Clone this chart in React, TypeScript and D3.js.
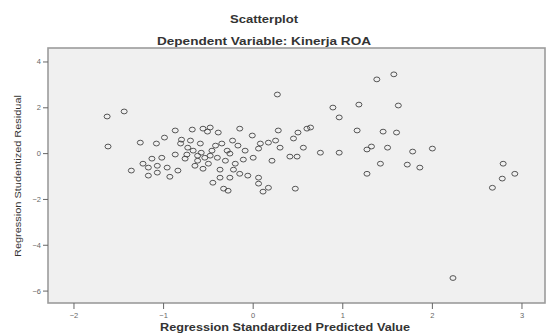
import { useEffect, useRef } from "react";
import * as d3 from "d3";

// predicted value (x) / studentized residual (y)
const predicted = [
  -1.63, -1.44, -1.62, -1.36, -1.26, -1.08, -0.99, -0.87, -0.68, -0.56, -0.51, -0.8, -0.7, -0.81, -0.73, -0.67,
  -0.87, -0.74, -0.62, -0.54, -1.13, -1.02, -1.23, -1.17, -1.07, -0.96, -0.84, -1.17, -1.07, -0.93, -0.62, -0.76,
  0.27, -0.48, -0.39, -0.15, -0.01, -0.23, -0.35, 0.28, 0.5, 0.6, 0.45, 0.08, 0.17, 0.25, 0.3, 0.06,
  -0.46, -0.29, -0.58, -0.48, -0.4, -0.26, -0.11, 0.0, 0.21, 0.41, 0.49, 0.56, -0.56, -0.37, -0.22, -0.15,
  -0.26, -0.06, -0.37, 0.06, -0.45, 0.06, 0.17, -0.33, -0.28, 0.11, 0.47, -0.42, -0.59, -0.31, -0.2, -0.5,
  -0.65, -0.09, -0.17,
  0.89, 1.18, 1.38, 1.57, 1.62, 0.96, 1.16, 1.45, 1.6, 0.64, 1.32, 1.5, 1.27, 0.75, 0.96, 1.78, 2.0,
  1.42, 1.72, 1.86, 1.27,
  2.79, 2.92, 2.78, 2.67, 2.23,
];
const residual = [
  1.62, 1.84, 0.31, -0.74, 0.48, 0.44, 0.7, 1.01, 1.05, 1.09, 0.96, 0.61, 0.57, 0.44, 0.26, 0.13,
  -0.04, -0.04, -0.09, -0.18, -0.22, -0.18, -0.44, -0.61, -0.53, -0.61, -0.74, -0.96, -0.83, -1.01, -0.31, -0.22,
  2.58, 1.14, 0.92, 1.09, 0.79, 0.57, 0.44, 1.01, 0.92, 1.09, 0.66, 0.44, 0.48, 0.57, 0.26, 0.22,
  0.13, 0.13, 0.04, -0.09, -0.18, 0.0, -0.26, -0.18, -0.31, -0.13, -0.13, 0.26, -0.66, -0.7, -0.7, -0.88,
  -1.05, -0.96, -1.05, -1.05, -1.27, -1.31, -1.49, -1.53, -1.62, -1.66, -1.53, 0.35, 0.44, -0.31, -0.44, -0.44,
  -0.53, 0.13, 0.35,
  2.01, 2.14, 3.24, 3.46, 2.1, 1.58, 1.01, 0.96, 0.92, 1.14, 0.31, 0.26, 0.18, 0.04, 0.04, 0.09, 0.22,
  -0.44, -0.48, -0.61, -0.88,
  -0.44, -0.88, -1.09, -1.49, -5.43,
];
const xTicks = [-2, -1, 0, 1, 2, 3];
const yTicks = [4, 2, 0, -2, -4, -6];

export default function App() {
  const svgRef = useRef(null);

  useEffect(() => {
    const svg = d3.select(svgRef.current);
    svg.selectAll("*").remove();

    const left = 48, right = 545, top = 48, bottom = 303;
    const x = d3.scaleLinear().domain([-2.29, 3.257]).range([left, right]);
    const y = d3.scaleLinear().domain([-6.52, 4.61]).range([bottom, top]);
    const font = "'Liberation Sans', Arial, sans-serif";

    svg.append("rect").attr("width", 547).attr("height", 333).attr("fill", "#ffffff");

    svg.append("rect")
      .attr("x", left).attr("y", top)
      .attr("width", right - left).attr("height", bottom - top)
      .attr("fill", "#f0f0f0")
      .attr("stroke", "#9c9c9c")
      .attr("stroke-width", 1.6);

    // titles
    svg.append("text").attr("x", 264).attr("y", 23).attr("text-anchor", "middle")
      .attr("font-family", font).attr("font-weight", "bold").attr("font-size", 10)
      .attr("fill", "#333").attr("textLength", 68).attr("lengthAdjust", "spacingAndGlyphs")
      .text("Scatterplot");
    svg.append("text").attr("x", 264).attr("y", 45).attr("text-anchor", "middle")
      .attr("font-family", font).attr("font-weight", "bold").attr("font-size", 10.5)
      .attr("fill", "#333").attr("textLength", 214).attr("lengthAdjust", "spacingAndGlyphs")
      .text("Dependent Variable: Kinerja ROA");

    // x axis
    const gx = svg.append("g");
    gx.selectAll("line").data(xTicks).enter().append("line")
      .attr("x1", d => x(d)).attr("x2", d => x(d))
      .attr("y1", bottom).attr("y2", bottom + 6)
      .attr("stroke", "#666").attr("stroke-width", 1);
    gx.selectAll("text").data(xTicks).enter().append("text")
      .attr("x", d => x(d)).attr("y", bottom + 15)
      .attr("text-anchor", "middle")
      .attr("font-family", font).attr("font-size", 7.5).attr("fill", "#666")
      .text(d => d3.format("")(d));
    svg.append("text").attr("x", 285).attr("y", 331).attr("text-anchor", "middle")
      .attr("font-family", font).attr("font-weight", "bold").attr("font-size", 10)
      .attr("fill", "#333").attr("textLength", 250).attr("lengthAdjust", "spacingAndGlyphs")
      .text("Regression Standardized Predicted Value");

    // y axis
    const gy = svg.append("g");
    gy.selectAll("line").data(yTicks).enter().append("line")
      .attr("x1", left - 5).attr("x2", left)
      .attr("y1", d => y(d)).attr("y2", d => y(d))
      .attr("stroke", "#666").attr("stroke-width", 1);
    gy.selectAll("text").data(yTicks).enter().append("text")
      .attr("x", left - 7).attr("y", d => y(d) + 2.5)
      .attr("text-anchor", "end")
      .attr("font-family", font).attr("font-size", 7.5).attr("fill", "#666")
      .text(d => d3.format("")(d));
    svg.append("text")
      .attr("transform", "translate(21,176) rotate(-90)")
      .attr("text-anchor", "middle")
      .attr("font-family", font).attr("font-size", 9.5)
      .attr("fill", "#333").attr("textLength", 162).attr("lengthAdjust", "spacingAndGlyphs")
      .text("Regression Studentized Residual");

    // points
    svg.append("g").selectAll("ellipse")
      .data(predicted.map((p, i) => [p, residual[i]]))
      .enter()
      .append("ellipse")
      .attr("cx", d => x(d[0]))
      .attr("cy", d => y(d[1]))
      .attr("rx", 3).attr("ry", 2.4)
      .attr("fill", "none")
      .attr("stroke", "#444")
      .attr("stroke-width", 0.9);
  }, []);

  return (
    <svg ref={svgRef} width={547} height={333} style={{ position: "absolute", left: 0, top: 0 }}></svg>
  );
}
